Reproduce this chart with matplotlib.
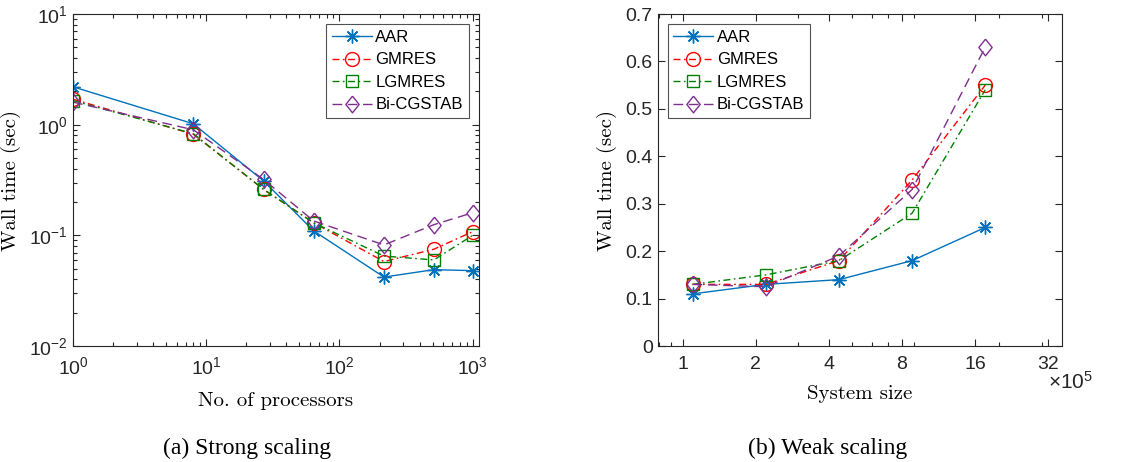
import matplotlib
matplotlib.use("Agg")
import matplotlib.pyplot as plt
from matplotlib.ticker import FixedLocator, NullFormatter, LogLocator

plt.rcParams['font.family'] = ['Liberation Sans', 'DejaVu Sans']
plt.rcParams['mathtext.fontset'] = 'custom'
plt.rcParams['mathtext.rm'] = 'Liberation Sans'
plt.rcParams['mathtext.it'] = 'Liberation Sans:italic'
plt.rcParams['mathtext.bf'] = 'Liberation Sans:bold'

methods = ["AAR", "GMRES", "LGMRES", "Bi-CGSTAB"]

# strong scaling
procs = [1, 8, 27, 64, 216, 512, 1000]
strong_aar = [2.2, 1.02, 0.31, 0.11, 0.042, 0.049, 0.048]
strong_gmres = [1.7, 0.82, 0.26, 0.13, 0.058, 0.075, 0.108]
strong_lgmres = [1.65, 0.83, 0.26, 0.13, 0.065, 0.06, 0.1]
strong_bicg = [1.6, 0.9, 0.32, 0.135, 0.082, 0.125, 0.16]

# weak scaling (system size x 1e5)
sizes = [1.1, 2.2, 4.4, 8.8, 17.6]
weak_aar = [0.11, 0.13, 0.14, 0.18, 0.25]
weak_gmres = [0.13, 0.13, 0.18, 0.35, 0.55]
weak_lgmres = [0.13, 0.15, 0.18, 0.28, 0.54]
weak_bicg = [0.13, 0.125, 0.19, 0.33, 0.63]

diamond = [(0, 1), (0.8, 0), (0, -1), (-0.8, 0), (0, 1)]
dashdot = (0, (5, 2.5, 1.2, 2.5))
styles = [
    dict(color='#0072BD', linestyle='-', marker=(8, 2, 0), markersize=10),
    dict(color='#FF0000', linestyle=dashdot, marker='o', markersize=10),
    dict(color='#008000', linestyle=dashdot, marker='s', markersize=8),
    dict(color='#7E2F8E', linestyle=(0, (7, 4)), marker=diamond, markersize=12),
]

serif = 'cmr10'
cap_font = 'Liberation Serif'

fig = plt.figure(figsize=(11.3, 4.62), dpi=100)
ax1 = fig.add_axes([0.0646, 0.251, 0.359, 0.7186])
ax2 = fig.add_axes([0.582, 0.251, 0.358, 0.7186])


def style_axes(ax):
    ax.tick_params(which='both', direction='in', top=True, right=True,
                   labelsize=14, width=0.8, color='#262626',
                   labelcolor='#262626')
    ax.tick_params(which='major', length=5)
    ax.tick_params(which='minor', length=3)
    ax.tick_params(axis='x', pad=7)
    for s in ax.spines.values():
        s.set_linewidth(0.8)
        s.set_color('#262626')


def add_legend(ax, loc):
    leg = ax.legend(loc=loc, fontsize=12, frameon=True, fancybox=False,
                    edgecolor='#262626', borderpad=0.35, labelspacing=0.45,
                    handlelength=2.4, handletextpad=0.2, borderaxespad=0.6)
    leg.get_frame().set_linewidth(0.8)
    return leg


strong = [strong_aar, strong_gmres, strong_lgmres, strong_bicg]
for name, vals, st in zip(methods, strong, styles):
    ax1.plot(procs, vals, label=name, linewidth=1.0,
             markerfacecolor='none', markeredgewidth=1.0, **st)
ax1.set_xscale('log')
ax1.set_yscale('log')
ax1.set_xlim(1, 1110)
ax1.set_ylim(1e-2, 1e1)
ax1.yaxis.set_minor_locator(LogLocator(base=10, subs=range(2, 10)))
ax1.xaxis.set_minor_locator(LogLocator(base=10, subs=range(2, 10)))
ax1.yaxis.set_minor_formatter(NullFormatter())
ax1.xaxis.set_minor_formatter(NullFormatter())
style_axes(ax1)
ax1.set_xlabel("No. of processors", fontfamily=serif, fontsize=15, labelpad=10)
ax1.set_ylabel("Wall time (sec)", fontfamily=serif, fontsize=15, labelpad=6)
add_legend(ax1, 'upper right')

weak = [weak_aar, weak_gmres, weak_lgmres, weak_bicg]
for name, vals, st in zip(methods, weak, styles):
    ax2.plot(sizes, vals, label=name, linewidth=1.0,
             markerfacecolor='none', markeredgewidth=1.0, **st)
ax2.set_xscale('log')
ax2.set_xlim(0.79, 36.5)
ax2.set_ylim(0, 0.7)
ax2.xaxis.set_major_locator(FixedLocator([1, 2, 4, 8, 16, 32]))
ax2.set_xticklabels(['1', '2', '4', '8', '16', '32'])
ax2.xaxis.set_minor_locator(LogLocator(base=10, subs=range(2, 10)))
ax2.xaxis.set_minor_formatter(NullFormatter())
ax2.set_yticks([0, 0.1, 0.2, 0.3, 0.4, 0.5, 0.6, 0.7])
ax2.set_yticklabels(['0', '0.1', '0.2', '0.3', '0.4', '0.5', '0.6', '0.7'])
style_axes(ax2)
ax2.set_xlabel("System size", fontfamily=serif, fontsize=15, labelpad=9)
ax2.set_ylabel("Wall time (sec)", fontfamily=serif, fontsize=15, labelpad=6)
ax2.text(0.965, -0.075, r"$\times10^5$", transform=ax2.transAxes,
         fontsize=15, ha='left', va='top', color='#262626')
add_legend(ax2, 'upper left')

fig.text(247 / 1130, 1 - 448 / 462, "(a) Strong scaling", fontfamily=cap_font,
         fontsize=17, ha='center', va='center')
fig.text(828 / 1130, 1 - 448 / 462, "(b) Weak scaling", fontfamily=cap_font,
         fontsize=17, ha='center', va='center')

fig.savefig("out.png", dpi=100)
